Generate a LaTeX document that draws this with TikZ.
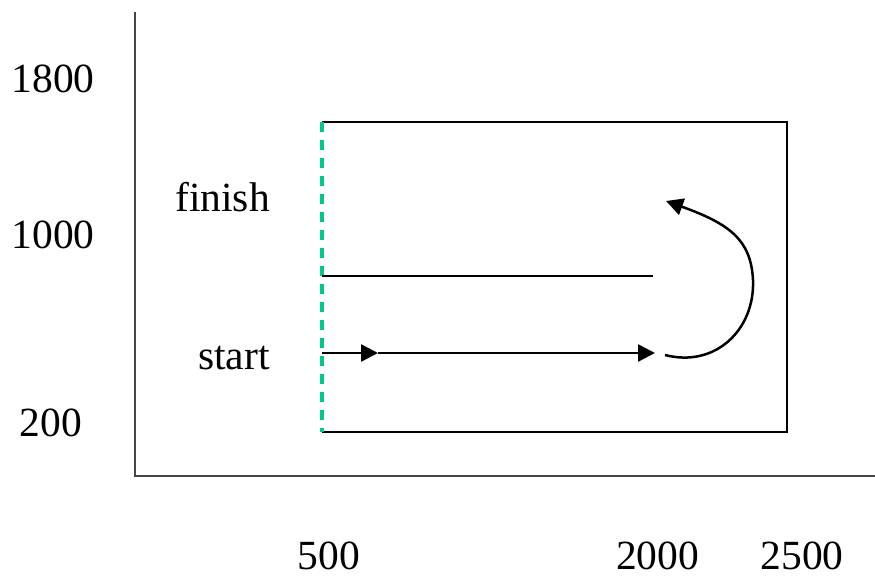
\documentclass[tikz,border=0pt]{standalone}
\usepackage{fontspec}
\setmainfont{Liberation Serif}
\usetikzlibrary{arrows.meta}
\definecolor{axisgray}{RGB}{70,70,70}
\definecolor{dashgreen}{RGB}{0,200,140}
\tikzset{
  axisline/.style={draw=axisgray, line width=2.3pt},
  boxline/.style={draw=black, line width=2.5pt},
  leftedge/.style={draw=dashgreen, line width=3.2pt, dash pattern=on 10pt off 8pt},
  flow/.style={draw=black, line width=2.5pt, -{Triangle[length=17pt,width=17pt]}},
  lbl/.style={font=\fontsize{41.5}{48}\selectfont, anchor=base, inner sep=0pt}
}
\begin{document}
\begin{tikzpicture}[x=1pt,y=-1pt]
\useasboundingbox (0,0) rectangle (875,577);
% axes
\coordinate (axtop) at (135,12);
\coordinate (origin) at (135,476);
\coordinate (axright) at (875,476);
\draw[axisline] (axtop) -- (origin) -- (axright);
% rectangle
\coordinate (tl) at (322,122);
\coordinate (tr) at (787,122);
\coordinate (br) at (787,432);
\coordinate (bl) at (322,432);
\draw[boxline] (tl) -- (tr) -- (br) -- (bl);
\draw[leftedge] (tl) -- (bl);
% middle line
\coordinate (ml) at (322,276);
\coordinate (mr) at (653,276);
\draw[boxline,line width=2pt] (ml) -- (mr);
% start arrow
\coordinate (s0) at (322,353);
\coordinate (s1) at (378,353);
\coordinate (s2) at (655,353);
\draw[flow] (s0) -- (s1);
\draw[flow] (s1) -- (s2);
% curved return arrow
\coordinate (cs) at (665,355);
\coordinate (cm) at (753,280);
\coordinate (ce) at (666,201);
\draw[flow] (cs) .. controls (715,368) and (755,330) .. (cm)
  .. controls (751,240) and (730,224) .. (ce);
% labels
\node[lbl] (l1800) at (53,93) {1800};
\node[lbl] (l1000) at (53,249) {1000};
\node[lbl] (l200) at (51,436) {200};
\node[lbl] (lfinish) at (222.5,212) {finish};
\node[lbl] (lstart) at (234,369) {start};
\node[lbl] (l500) at (329,569) {500};
\node[lbl] (l2000) at (657.5,569) {2000};
\node[lbl] (l2500) at (802,569) {2500};
\end{tikzpicture}
\end{document}
